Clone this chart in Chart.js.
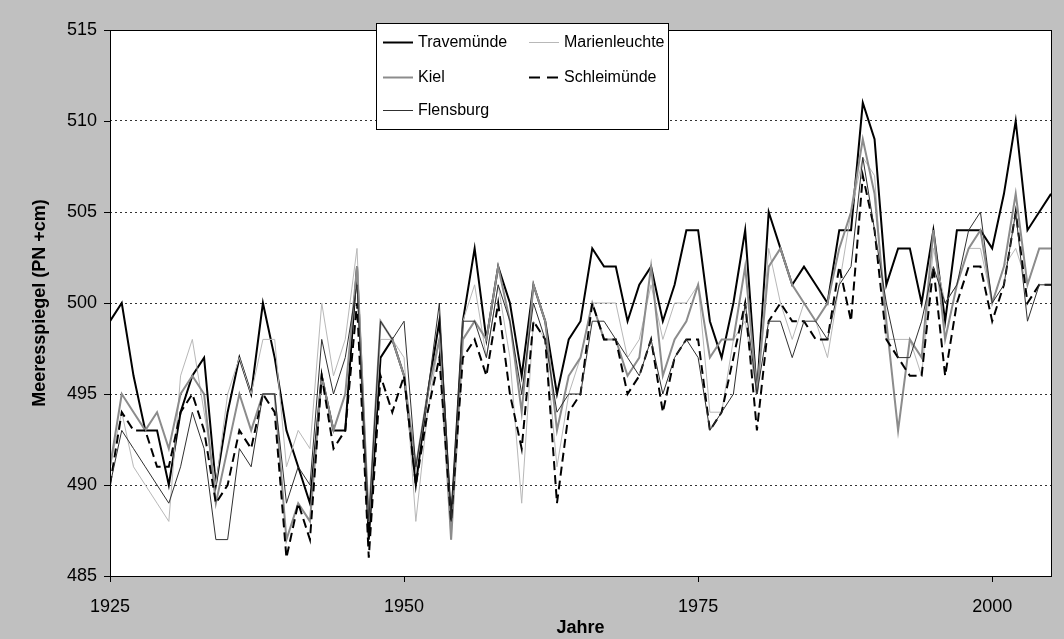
<!DOCTYPE html>
<html>
<head>
<meta charset="utf-8">
<script src="https://cdn.jsdelivr.net/npm/chart.js@4.4.1/dist/chart.umd.min.js"></script>
<style>
  html, body { margin: 0; padding: 0; background: #c0c0c0; }
  canvas { display: block; }
</style>
</head>
<body>
<canvas id="seaLevelChart" width="1064" height="639"></canvas>
<script>

// =========================
// DATA
// =========================

const years = [
  1925, 1926, 1927, 1928, 1929, 1930, 1931, 1932, 1933, 1934,
  1935, 1936, 1937, 1938, 1939, 1940, 1941, 1942, 1943, 1944,
  1945, 1946, 1947, 1948, 1949, 1950, 1951, 1952, 1953, 1954,
  1955, 1956, 1957, 1958, 1959, 1960, 1961, 1962, 1963, 1964,
  1965, 1966, 1967, 1968, 1969, 1970, 1971, 1972, 1973, 1974,
  1975, 1976, 1977, 1978, 1979, 1980, 1981, 1982, 1983, 1984,
  1985, 1986, 1987, 1988, 1989, 1990, 1991, 1992, 1993, 1994,
  1995, 1996, 1997, 1998, 1999, 2000, 2001, 2002, 2003, 2004,
  2005
];

const travemuende = [
  499, 500, 496, 493, 493, 490, 494, 496, 497, 490,
  494, 497, 495, 500, 497, 493, 491, 489, 496, 493,
  493, 502, 487, 497, 498, 496, 490, 495, 499, 488,
  499, 503, 498, 502, 500, 496, 501, 499, 495, 498,
  499, 503, 502, 502, 499, 501, 502, 499, 501, 504,
  504, 499, 497, 500, 504, 495, 505, 503, 501, 502,
  501, 500, 504, 504, 511, 509, 501, 503, 503, 500,
  504, 499, 504, 504, 504, 503, 506, 510, 504, 505,
  506
];

const marienleuchte = [
  491, 494, 491, 490, 489, 488, 496, 498, 494, 490,
  495, 497, 495, 498, 498, 491, 493, 492, 500, 496,
  498, 503, 488, 498, 498, 497, 488, 494, 498, 487,
  499, 501, 497, 501, 497, 489, 499, 498, 491, 495,
  497, 500, 500, 500, 497, 498, 501, 498, 500, 500,
  501, 494, 494, 498, 499, 495, 503, 500, 498, 500,
  499, 497, 501, 505, 508, 507, 498, 498, 498, 496,
  503, 500, 501, 503, 503, 500, 502, 503, 501, 503,
  503
];

const kiel = [
  491, 495, 494, 493, 494, 492, 495, 496, 495, 489,
  492, 495, 493, 495, 495, 487, 489, 488, 496, 493,
  495, 502, 488, 499, 498, 496, 491, 495, 498, 487,
  498, 499, 498, 502, 499, 494, 501, 499, 493, 496,
  497, 500, 498, 498, 496, 497, 502, 496, 498, 499,
  501, 497, 498, 498, 502, 495, 502, 503, 501, 500,
  499, 500, 503, 505, 509, 506, 499, 493, 498, 497,
  504, 498, 501, 503, 504, 500, 502, 506, 501, 503,
  503
];

const schleimuende = [
  490, 494, 493, 493, 491, 491, 494, 495, 493, 489,
  490, 493, 492, 495, 494, 486, 489, 487, 496, 492,
  493, 500, 486, 496, 494, 496, 490, 494, 497, 488,
  497, 498, 496, 500, 495, 492, 499, 498, 489, 494,
  495, 500, 498, 498, 495, 496, 498, 494, 497, 498,
  498, 493, 494, 497, 500, 493, 499, 500, 499, 499,
  498, 498, 502, 499, 507, 504, 498, 497, 496, 496,
  502, 496, 500, 502, 502, 499, 501, 505, 500, 501,
  501
];

const flensburg = [
  490, 493, 492, 491, 490, 489, 491, 494, 492, 487,
  487, 492, 491, 495, 495, 489, 491, 490, 498, 495,
  497, 501, 488, 499, 498, 499, 491, 495, 500, 488,
  499, 499, 497, 501, 499, 495, 500, 498, 494, 495,
  495, 499, 499, 498, 497, 496, 498, 495, 497, 498,
  497, 493, 494, 495, 500, 495, 499, 499, 497, 499,
  499, 498, 501, 502, 508, 504, 500, 497, 497, 499,
  502, 500, 501, 504, 505, 500, 501, 505, 499, 501,
  501
];

const xTickValues = [1925, 1950, 1975, 2000];
const yTickValues = [485, 490, 495, 500, 505, 510, 515];

const seriesLabels = [
  "Travemünde",
  "Marienleuchte",
  "Kiel",
  "Schleimünde",
  "Flensburg"
];


// =========================
// HELPERS
// =========================

function toPoints(values) {

  return values.map(
    (value, i) => ({ x: years[i], y: value })
  );

}


const FONT = "'Liberation Sans', Arial, sans-serif";


// =========================
// FRAME, TITLES, LEGEND
// =========================

const excelFrame = {

  id: "excelFrame",

  beforeDraw(chart) {

    const ctx = chart.ctx;
    const area = chart.chartArea;

    ctx.save();
    ctx.fillStyle = "#c0c0c0";
    ctx.fillRect(0, 0, chart.width, chart.height);
    ctx.fillStyle = "#ffffff";
    ctx.fillRect(
      area.left, area.top,
      area.right - area.left, area.bottom - area.top
    );
    ctx.restore();

  },

  afterDraw(chart) {

    const ctx = chart.ctx;
    const area = chart.chartArea;
    const xScale = chart.scales.x;
    const yScale = chart.scales.y;

    ctx.save();

    // plot border
    ctx.strokeStyle = "#000000";
    ctx.lineWidth = 1;
    ctx.setLineDash([]);
    ctx.strokeRect(
      Math.round(area.left) + 0.5,
      Math.round(area.top) + 0.5,
      Math.round(area.right - area.left),
      Math.round(area.bottom - area.top)
    );

    // tick marks
    ctx.beginPath();
    yTickValues.forEach(v => {
      const py = Math.round(yScale.getPixelForValue(v)) + 0.5;
      ctx.moveTo(area.left - 6, py);
      ctx.lineTo(area.left, py);
    });
    xTickValues.forEach(v => {
      const px = Math.round(xScale.getPixelForValue(v)) + 0.5;
      ctx.moveTo(px, area.bottom);
      ctx.lineTo(px, area.bottom + 6);
    });
    ctx.stroke();

    // axis titles
    ctx.fillStyle = "#000000";
    ctx.font = "bold 18px " + FONT;
    ctx.textAlign = "center";
    ctx.textBaseline = "middle";
    ctx.fillText(
      "Jahre",
      (area.left + area.right) / 2,
      628
    );

    ctx.translate(40, (area.top + area.bottom) / 2);
    ctx.rotate(-Math.PI / 2);
    ctx.fillText("Meeresspiegel (PN +cm)", 0, 0);
    ctx.setTransform(1, 0, 0, 1, 0, 0);

    // legend box
    const box = { left: 376, top: 23, right: 668, bottom: 129 };
    ctx.fillStyle = "#ffffff";
    ctx.fillRect(box.left, box.top, box.right - box.left, box.bottom - box.top);
    ctx.strokeStyle = "#000000";
    ctx.lineWidth = 1;
    ctx.strokeRect(box.left + 0.5, box.top + 0.5, box.right - box.left, box.bottom - box.top);

    const slots = [
      { x: 383, y: 42 },
      { x: 529, y: 42 },
      { x: 383, y: 77 },
      { x: 529, y: 77 },
      { x: 383, y: 110 }
    ];

    chart.data.datasets.forEach((ds, i) => {

      const slot = slots[i];

      ctx.beginPath();
      ctx.strokeStyle = ds.borderColor;
      ctx.lineWidth = ds.borderWidth;
      ctx.setLineDash(ds.borderDash ? [11, 7] : []);
      ctx.moveTo(slot.x, slot.y + 0.5);
      ctx.lineTo(slot.x + 30, slot.y + 0.5);
      ctx.stroke();
      ctx.setLineDash([]);

      ctx.fillStyle = "#000000";
      ctx.font = "16px " + FONT;
      ctx.textAlign = "left";
      ctx.textBaseline = "middle";
      ctx.fillText(ds.label, slot.x + 35, slot.y + 1);

    });

    ctx.restore();

  }

};


// =========================
// CHART
// =========================

const canvas = document.getElementById("seaLevelChart");

new Chart(canvas, {

  type: "line",

  data: {

    datasets: [

      {
        label: seriesLabels[0],
        data: toPoints(travemuende),
        borderColor: "#000000",
        borderWidth: 2,
        order: 5
      },

      {
        label: seriesLabels[1],
        data: toPoints(marienleuchte),
        borderColor: "#b8b8b8",
        borderWidth: 1,
        order: 4
      },

      {
        label: seriesLabels[2],
        data: toPoints(kiel),
        borderColor: "#8c8c8c",
        borderWidth: 2,
        order: 3
      },

      {
        label: seriesLabels[3],
        data: toPoints(schleimuende),
        borderColor: "#000000",
        borderWidth: 2,
        borderDash: [9, 5],
        order: 2
      },

      {
        label: seriesLabels[4],
        data: toPoints(flensburg),
        borderColor: "#303030",
        borderWidth: 1,
        order: 1
      }

    ]

  },

  options: {

    responsive: false,
    maintainAspectRatio: false,
    animation: false,
    devicePixelRatio: 1,

    layout: {
      padding: { top: 30, right: 13, bottom: 0, left: 0 }
    },

    elements: {
      point: { radius: 0, hoverRadius: 0 },
      line: { tension: 0, fill: false }
    },

    plugins: {
      legend: { display: false },
      tooltip: { enabled: false }
    },

    scales: {

      x: {
        type: "linear",
        min: 1925,
        max: 2005,
        afterBuildTicks(scale) {
          scale.ticks = xTickValues.map(v => ({ value: v }));
        },
        afterFit(scale) {
          scale.height = 63;
        },
        grid: { display: false, drawTicks: false },
        border: { display: false },
        ticks: {
          padding: 20,
          maxRotation: 0,
          autoSkip: false,
          color: "#000000",
          font: { family: FONT, size: 18 },
          callback: v => String(v)
        }
      },

      y: {
        min: 485,
        max: 515,
        afterBuildTicks(scale) {
          scale.ticks = yTickValues.map(v => ({ value: v }));
        },
        afterFit(scale) {
          scale.width = 110;
        },
        grid: {
          drawTicks: false,
          color: ctx =>
            (ctx.tick && (ctx.tick.value === 485 || ctx.tick.value === 515))
              ? "rgba(0,0,0,0)"
              : "#333333",
          lineWidth: 1
        },
        // in v4 the dash of the grid lines lives on the border options
        border: { display: false, dash: [2, 3] },
        ticks: {
          padding: 13,
          color: "#000000",
          font: { family: FONT, size: 18 }
        }
      }

    }

  },

  plugins: [excelFrame]

});

</script>
</body>
</html>
